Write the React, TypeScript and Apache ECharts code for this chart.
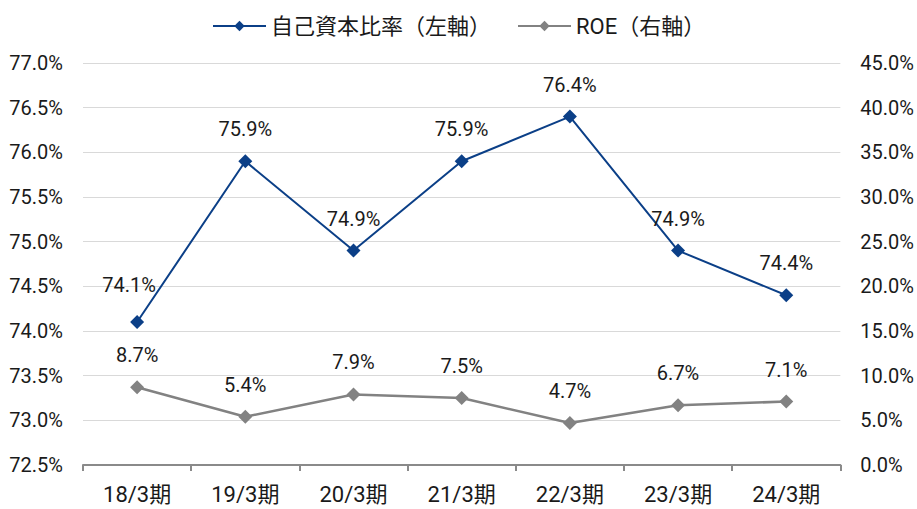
import React, { useEffect, useRef } from "react";
import * as echarts from "echarts";

const categories = ["18/3期", "19/3期", "20/3期", "21/3期", "22/3期", "23/3期", "24/3期"];
const equityRatio = [74.1, 75.9, 74.9, 75.9, 76.4, 74.9, 74.4];
const roe = [8.7, 5.4, 7.9, 7.5, 4.7, 6.7, 7.1];
const seriesNames = ["自己資本比率（左軸）", "ROE（右軸）"];

const FONT = "Roboto, 'Noto Sans CJK JP', sans-serif";
const BLUE = "#0b3f87";
const GRAY = "#828282";
const TXT = "#1a1a1a";

export default function App() {
  const ref = useRef<HTMLDivElement>(null);
  useEffect(() => {
    if (!ref.current) return;
    const chart = echarts.init(ref.current, undefined, { renderer: "svg" });
    chart.setOption({
      animation: false,
      textStyle: { fontFamily: FONT },
      legend: {
        top: 10,
        left: 207,
        itemWidth: 53,
        itemHeight: 13,
        itemGap: 26,
        textStyle: { fontSize: 22, color: TXT, fontFamily: FONT },
        data: seriesNames,
      },
      grid: { left: 83, right: 74, top: 63, bottom: 44 },
      xAxis: {
        type: "category",
        data: categories,
        boundaryGap: true,
        axisLine: { lineStyle: { color: "#8a8a8a", width: 2 } },
        axisTick: { show: true, length: 6, lineStyle: { color: "#8a8a8a", width: 2 } },
        axisLabel: { fontSize: 22, color: TXT, margin: 18, fontFamily: FONT },
      },
      yAxis: [
        {
          type: "value",
          min: 72.5,
          max: 77,
          interval: 0.5,
          axisLine: { show: false },
          axisTick: { show: false },
          splitLine: { lineStyle: { color: "#d9d9d9", width: 1 } },
          axisLabel: {
            fontSize: 20,
            color: TXT,
            margin: 20,
            fontFamily: FONT,
            formatter: (v: number) => v.toFixed(1) + "%",
          },
        },
        {
          type: "value",
          min: 0,
          max: 45,
          interval: 5,
          axisLine: { show: false },
          axisTick: { show: false },
          splitLine: { show: false },
          axisLabel: {
            fontSize: 20,
            color: TXT,
            margin: 20,
            align: "left",
            fontFamily: FONT,
            formatter: (v: number) => v.toFixed(1) + "%",
          },
        },
      ],
      series: [
        {
          name: seriesNames[0],
          type: "line",
          yAxisIndex: 0,
          data: equityRatio.map((v, i) =>
            i === 0 ? { value: v, label: { offset: [-8, -5] } } : v
          ),
          symbol: "diamond",
          symbolSize: 14,
          lineStyle: { color: BLUE, width: 2 },
          itemStyle: { color: BLUE },
          label: {
            show: true,
            position: "top",
            distance: 15,
            fontSize: 20,
            color: TXT,
            fontFamily: FONT,
            formatter: (p: any) => p.value.toFixed(1) + "%",
          },
        },
        {
          name: seriesNames[1],
          type: "line",
          yAxisIndex: 1,
          data: roe,
          symbol: "diamond",
          symbolSize: 14,
          lineStyle: { color: GRAY, width: 2.5 },
          itemStyle: { color: GRAY },
          label: {
            show: true,
            position: "top",
            distance: 15,
            fontSize: 20,
            color: TXT,
            fontFamily: FONT,
            formatter: (p: any) => p.value.toFixed(1) + "%",
          },
        },
      ],
    });
    return () => chart.dispose();
  }, []);
  return (
    <div
      ref={ref}
      style={{ position: "absolute", left: 0, top: 0, width: 917, height: 509, background: "#fff" }}
    />
  );
}
